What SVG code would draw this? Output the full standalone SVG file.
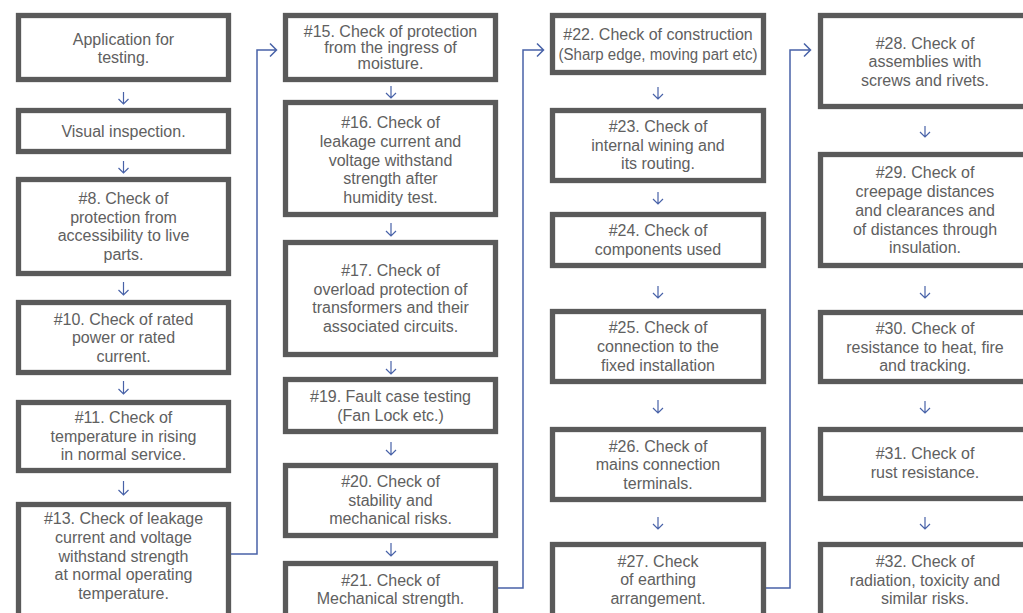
<svg xmlns="http://www.w3.org/2000/svg" width="1023" height="613" viewBox="0 0 1023 613">
<style>
.box{fill:#fff;stroke:#5a5a5a;stroke-width:5.3}
.t{font-family:"Liberation Sans",Arial,sans-serif;font-size:16px;fill:#606060;text-anchor:middle}
.c{fill:none;stroke:#4862a8;stroke-width:1.5}
.a{fill:none;stroke:#4862a8;stroke-width:1.2}
</style>
<rect width="1023" height="613" fill="#fff"/>
<g id="n-app"><rect class="box" x="18.5" y="15.5" width="210" height="64"/><text class="t"><tspan x="123.5" y="45">Application for</tspan><tspan x="123.5" y="63">testing.</tspan></text></g>
<g id="n-visual"><rect class="box" x="18.5" y="110.5" width="210" height="41"/><text class="t"><tspan x="123.5" y="137">Visual inspection.</tspan></text></g>
<g id="n-8"><rect class="box" x="18.5" y="179.5" width="210" height="94"/><text class="t"><tspan x="123.5" y="204">#8. Check of</tspan><tspan x="123.5" y="222.7">protection from</tspan><tspan x="123.5" y="241.3">accessibility to live</tspan><tspan x="123.5" y="260">parts.</tspan></text></g>
<g id="n-10"><rect class="box" x="18.5" y="302.5" width="210" height="70"/><text class="t"><tspan x="123.5" y="324.5">#10. Check of rated</tspan><tspan x="123.5" y="343.2">power or rated</tspan><tspan x="123.5" y="362">current.</tspan></text></g>
<g id="n-11"><rect class="box" x="18.5" y="402.5" width="210" height="68"/><text class="t"><tspan x="123.5" y="423">#11. Check of</tspan><tspan x="123.5" y="441.7">temperature in rising</tspan><tspan x="123.5" y="460.4">in normal service.</tspan></text></g>
<g id="n-13"><rect class="box" x="18.5" y="504.5" width="210" height="114"/><text class="t"><tspan x="123.5" y="524">#13. Check of leakage</tspan><tspan x="123.5" y="543">current and voltage</tspan><tspan x="123.5" y="561.7">withstand strength</tspan><tspan x="123.5" y="580.3">at normal operating</tspan><tspan x="123.5" y="599">temperature.</tspan></text></g>

<g id="n-15"><rect class="box" x="285.5" y="15.5" width="210" height="64"/><text class="t"><tspan x="390.5" y="37">#15. Check of protection</tspan><tspan x="390.5" y="53">from the ingress of</tspan><tspan x="390.5" y="69">moisture.</tspan></text></g>
<g id="n-16"><rect class="box" x="285.5" y="102.5" width="210" height="112"/><text class="t"><tspan x="390.5" y="128">#16. Check of</tspan><tspan x="390.5" y="147">leakage current and</tspan><tspan x="390.5" y="165.7">voltage withstand</tspan><tspan x="390.5" y="184.3">strength after</tspan><tspan x="390.5" y="203">humidity test.</tspan></text></g>
<g id="n-17"><rect class="box" x="285.5" y="242.5" width="210" height="112"/><text class="t"><tspan x="390.5" y="276">#17. Check of</tspan><tspan x="390.5" y="295">overload protection of</tspan><tspan x="390.5" y="313.3">transformers and their</tspan><tspan x="390.5" y="332">associated circuits.</tspan></text></g>
<g id="n-19"><rect class="box" x="285.5" y="379.5" width="210" height="52"/><text class="t"><tspan x="390.5" y="401.7">#19. Fault case testing</tspan><tspan x="390.5" y="420.7">(Fan Lock etc.)</tspan></text></g>
<g id="n-20"><rect class="box" x="285.5" y="465.5" width="210" height="70"/><text class="t"><tspan x="390.5" y="487">#20. Check of</tspan><tspan x="390.5" y="505.7">stability and</tspan><tspan x="390.5" y="524.3">mechanical risks.</tspan></text></g>
<g id="n-21"><rect class="box" x="285.5" y="563.5" width="210" height="55"/><text class="t"><tspan x="390.5" y="585.7">#21. Check of</tspan><tspan x="390.5" y="604">Mechanical strength.</tspan></text></g>

<g id="n-22"><rect class="box" x="552.5" y="15.5" width="211" height="57"/><text class="t"><tspan x="658" y="40">#22. Check of construction</tspan></text><text class="t" x="658" y="59.5" textLength="199" lengthAdjust="spacingAndGlyphs">(Sharp edge, moving part etc)</text></g>
<g id="n-23"><rect class="box" x="552.5" y="110.5" width="211" height="70"/><text class="t"><tspan x="658" y="131.7">#23. Check of</tspan><tspan x="658" y="150.5">internal wining and</tspan><tspan x="658" y="169.3">its routing.</tspan></text></g>
<g id="n-24"><rect class="box" x="552.5" y="214.5" width="211" height="51"/><text class="t"><tspan x="658" y="236">#24. Check of</tspan><tspan x="658" y="254.5">components used</tspan></text></g>
<g id="n-25"><rect class="box" x="552.5" y="311.5" width="211" height="70"/><text class="t"><tspan x="658" y="333.3">#25. Check of</tspan><tspan x="658" y="352">connection to the</tspan><tspan x="658" y="370.7">fixed installation</tspan></text></g>
<g id="n-26"><rect class="box" x="552.5" y="429.5" width="211" height="70"/><text class="t"><tspan x="658" y="451.7">#26. Check of</tspan><tspan x="658" y="470">mains connection</tspan><tspan x="658" y="488.5">terminals.</tspan></text></g>
<g id="n-27"><rect class="box" x="552.5" y="544.5" width="211" height="74"/><text class="t"><tspan x="658" y="566.7">#27. Check</tspan><tspan x="658" y="585">of earthing</tspan><tspan x="658" y="603.5">arrangement.</tspan></text></g>

<g id="n-28"><rect class="box" x="820.5" y="15.5" width="210" height="91"/><text class="t"><tspan x="925" y="49">#28. Check of</tspan><tspan x="925" y="67.3">assemblies with</tspan><tspan x="925" y="85.7">screws and rivets.</tspan></text></g>
<g id="n-29"><rect class="box" x="820.5" y="154.5" width="210" height="111"/><text class="t"><tspan x="925" y="178.3">#29. Check of</tspan><tspan x="925" y="197">creepage distances</tspan><tspan x="925" y="216">and clearances and</tspan><tspan x="925" y="234.7">of distances through</tspan><tspan x="925" y="253.3">insulation.</tspan></text></g>
<g id="n-30"><rect class="box" x="820.5" y="312.5" width="210" height="69"/><text class="t"><tspan x="925" y="334.3">#30. Check of</tspan><tspan x="925" y="352.7">resistance to heat, fire</tspan><tspan x="925" y="371">and tracking.</tspan></text></g>
<g id="n-31"><rect class="box" x="820.5" y="429.5" width="210" height="69"/><text class="t"><tspan x="925" y="459.3">#31. Check of</tspan><tspan x="925" y="478.3">rust resistance.</tspan></text></g>
<g id="n-32"><rect class="box" x="820.5" y="544.5" width="210" height="74"/><text class="t"><tspan x="925" y="566.7">#32. Check of</tspan><tspan x="925" y="585.7">radiation, toxicity and</tspan><tspan x="925" y="604">similar risks.</tspan></text></g>

<g id="connectors">
<path class="a" d="M123.5 92V104M118.5 99L123.5 104L128.5 99"/>
<path class="a" d="M123.5 161V173M118.5 168L123.5 173L128.5 168"/>
<path class="a" d="M123.5 282V295M118.5 290L123.5 295L128.5 290"/>
<path class="a" d="M123.5 381V394M118.5 389L123.5 394L128.5 389"/>
<path class="a" d="M123.5 481V495M118.5 490L123.5 495L128.5 490"/>
<path class="a" d="M391 86V98M386 93L391 98L396 93"/>
<path class="a" d="M391 223V236M386 231L391 236L396 231"/>
<path class="a" d="M391 361V374M386 369L391 374L396 369"/>
<path class="a" d="M391 442V455M386 450L391 455L396 450"/>
<path class="a" d="M391 543V556M386 551L391 556L396 551"/>
<path class="a" d="M658 87V99M653 94L658 99L663 94"/>
<path class="a" d="M658 192V204M653 199L658 204L663 199"/>
<path class="a" d="M658 286V298M653 293L658 298L663 293"/>
<path class="a" d="M658 400V413M653 408L658 413L663 408"/>
<path class="a" d="M658 517V529M653 524L658 529L663 524"/>
<path class="a" d="M925 126V137M920 132L925 137L930 132"/>
<path class="a" d="M925 286V298M920 293L925 298L930 293"/>
<path class="a" d="M925 401V413M920 408L925 413L930 408"/>
<path class="a" d="M925 517V529M920 524L925 529L930 524"/>
<path class="c" d="M231 554H257V50H276M270 43.5L276.5 50L270 56.5"/>
<path class="c" d="M498 588H523V50H543M537 43.5L543.5 50L537 56.5"/>
<path class="c" d="M766 588H790V50H810M804 43.5L810.5 50L804 56.5"/>
</g>
</svg>
